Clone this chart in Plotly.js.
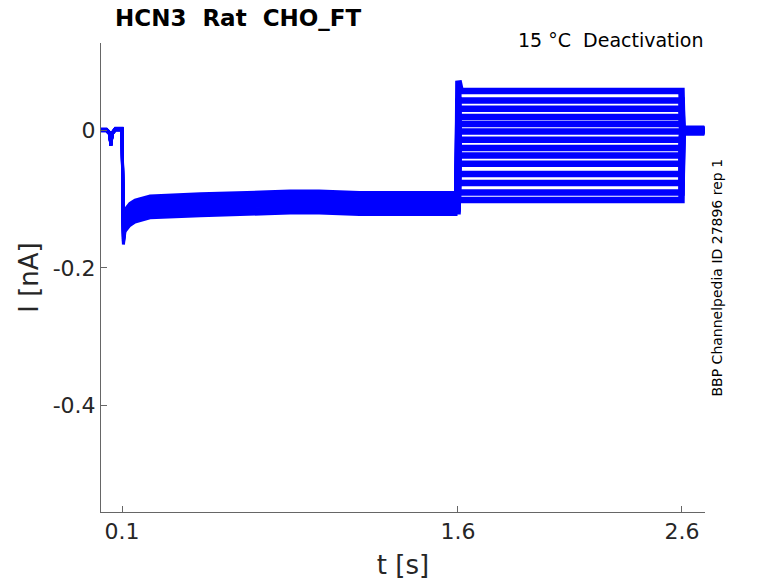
<!DOCTYPE html>
<html>
<head>
<meta charset="utf-8">
<script src="https://cdn.plot.ly/plotly-3.0.1.min.js"></script>
<style>
  html, body { margin: 0; padding: 0; background: #fff; }
  #chart { width: 778px; height: 583px; }
</style>
</head>
<body>
<div id="chart"></div>
<script>
// holding phase (s, nA), shared by all sweeps
var holdTimes = [0, 0.03, 0.045, 0.05, 0.056, 0.07, 0.1];
var holdShape = [0.001, 0.001, -0.004, -0.021, -0.004, 0.002, 0.002];

// activation step (s, nA), band centre
var actTimes = [0.104, 0.106, 0.113, 0.135, 0.158, 0.225, 0.45, 0.6, 0.75, 0.85, 0.98, 1.16, 1.34, 1.565, 1.598];
var actShape = [-0.135, -0.150, -0.131, -0.122, -0.117, -0.111, -0.108, -0.107, -0.105, -0.104, -0.104, -0.106, -0.106, -0.106, -0.106];

// per sweep spread in the activation band (nA)
var actSpread = [0.004, -0.013, 0.016, -0.003, 0.010, -0.016, 0.001, -0.008, 0.013, -0.005, 0.007, -0.011, 0.003, -0.001];

// tail currents at the test step, 1.6 - 2.6 s (nA)
var tailStart = 1.602;
var tailEnd = 2.598;
var tailLevels = [0.058, 0.044, 0.032, 0.020, 0.010, -0.001, -0.013, -0.025, -0.036, -0.048, -0.063, -0.076, -0.090, -0.101];
var tailPeak = [0.073, 0.047, 0.034, 0.022, 0.011, 0.000, -0.012, -0.024, -0.035, -0.047, -0.062, -0.075, -0.089, -0.100];

// back to holding, 2.6 - 2.7 s (nA)
var postTimes = [2.602, 2.7];
var postLevels = [0.003, 0.002, 0.001, 0.001, 0.000, -0.001, -0.002, 0.002, 0.001, -0.002, 0.002, 0.000, -0.001, 0.001];

var xTicks = [0.1, 1.6, 2.6];
var xTickText = ['0.1', '1.6', '2.6'];
var yTicks = [-0.4, -0.2, 0];
var yTickText = ['-0.4', '-0.2', '0'];

var blue = 'rgb(0,0,255)';
var data = [];
for (var i = 0; i < tailLevels.length; i++) {
  // holding + activation part of the sweep
  var x = [], y = [];
  holdTimes.forEach(function (t, k) { x.push(t); y.push(holdShape[k] + postLevels[i] * 0.5); });
  actTimes.forEach(function (t, k) { x.push(t); y.push(actShape[k] + actSpread[i]); });
  data.push({
    x: x, y: y, type: 'scatter', mode: 'lines', hoverinfo: 'skip',
    line: { color: blue, width: 3 }
  });

  // test step (tail) + return to holding
  var xt = [actTimes[actTimes.length - 1]], yt = [actShape[actShape.length - 1] + actSpread[i]];
  xt.push(tailStart); yt.push(tailPeak[i]);
  xt.push(tailStart + 0.01); yt.push(tailLevels[i]);
  xt.push(tailEnd); yt.push(tailLevels[i]);
  postTimes.forEach(function (t) { xt.push(t); yt.push(postLevels[i]); });
  data.push({
    x: xt, y: yt, type: 'scatter', mode: 'lines', hoverinfo: 'skip',
    line: { color: blue, width: 6.5 }
  });
}

var layout = {
  width: 778,
  height: 583,
  margin: { l: 101, r: 73, t: 43, b: 71 },
  paper_bgcolor: '#fff',
  plot_bgcolor: '#fff',
  showlegend: false,
  font: { family: 'DejaVu Sans', color: '#262626' },
  title: {
    text: '<b>HCN3\u00a0 Rat\u00a0 CHO_FT</b>',
    font: { family: 'DejaVu Sans', size: 23, color: '#000' },
    xref: 'container', x: 115 / 778, xanchor: 'left',
    yref: 'container', y: 1 - 18 / 583, yanchor: 'middle'
  },
  xaxis: {
    range: [0.006, 2.703],
    showgrid: false,
    zeroline: false,
    showline: true,
    linecolor: '#666',
    linewidth: 1,
    ticks: 'inside',
    ticklen: 6,
    tickcolor: '#666',
    tickvals: xTicks,
    ticktext: xTickText,
    tickfont: { size: 22, color: '#262626' },
    title: { text: 't [s]', font: { size: 26, color: '#262626' }, standoff: 12 }
  },
  yaxis: {
    range: [-0.556, 0.128],
    showgrid: false,
    zeroline: false,
    showline: true,
    linecolor: '#666',
    linewidth: 1,
    ticks: 'inside',
    ticklen: 6,
    tickcolor: '#666',
    tickvals: yTicks,
    ticktext: yTickText,
    tickfont: { size: 22, color: '#262626' },
    title: { text: 'I [nA]', font: { size: 26, color: '#262626' }, standoff: 6 }
  },
  annotations: [
    {
      text: '15 °C\u00a0 Deactivation',
      xref: 'paper', yref: 'paper', x: 1, y: 1,
      xanchor: 'right', yanchor: 'middle', yshift: 3, showarrow: false,
      font: { family: 'DejaVu Sans', size: 19, color: '#000' }
    },
    {
      text: 'BBP Channelpedia ID 27896 rep 1',
      xref: 'paper', yref: 'paper', x: (716 - 101) / 604, y: 0.5,
      xanchor: 'center', yanchor: 'middle', textangle: -90, showarrow: false,
      font: { family: 'DejaVu Sans', size: 14, color: '#000' }
    }
  ]
};

Plotly.newPlot('chart', data, layout, { displayModeBar: false, staticPlot: true });
</script>
</body>
</html>
